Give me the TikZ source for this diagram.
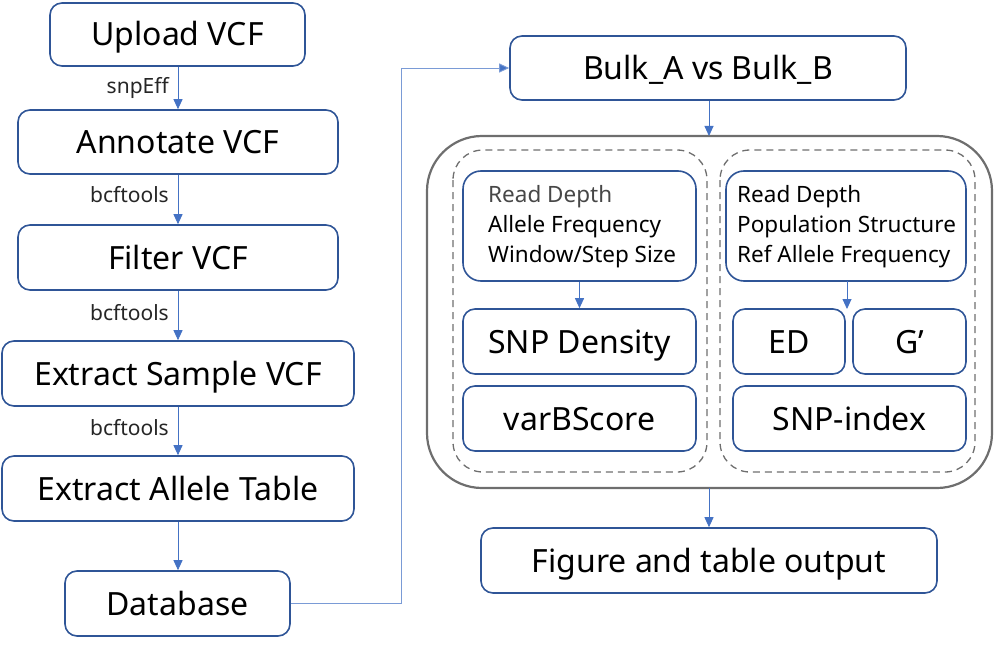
\documentclass[tikz,border=0pt]{standalone}
\usepackage{fontspec}
\setmainfont{Noto Sans}
\usetikzlibrary{arrows.meta,positioning}
\definecolor{boxblue}{HTML}{2F5597}
\definecolor{arrblue}{HTML}{4472C4}
\definecolor{linkblue}{HTML}{7A9BD6}
\definecolor{outgray}{HTML}{6E6E6E}
\tikzset{
  box/.style={draw=boxblue, line width=1.6pt, rounded corners=12pt, fill=white, inner sep=0pt, align=center, text height=23pt, text depth=0pt, font=\fontsize{32}{36}\selectfont},
  parbox/.style={draw=boxblue, line width=1.6pt, rounded corners=18pt, inner sep=0pt},
  partext/.style={anchor=west, align=left, inner sep=0pt, font=\fontsize{22.5}{30}\selectfont},
  arr/.style={draw=arrblue, line width=0.9pt, -{Triangle[width=9pt,length=10pt]}},
  lbl/.style={font=\fontsize{21}{24}\selectfont, anchor=east, inner sep=0pt, text=black!85},
  dashbox/.style={draw=outgray, line width=1.3pt, dash pattern=on 7pt off 5pt, rounded corners=30pt},
  outer/.style={draw=outgray, line width=2.2pt, rounded corners=55pt}
}
\begin{document}
\begin{tikzpicture}[x=1pt,y=-1pt]
\useasboundingbox (0,0) rectangle (1006,650);
% left column
\node[box, minimum width=255pt, minimum height=63pt] (up) at (177.5,34.5) {Upload VCF};
\node[box, minimum width=320pt, minimum height=64pt] (ann) at (178,142) {Annotate VCF};
\node[box, minimum width=320pt, minimum height=65pt] (fil) at (178,257.5) {Filter VCF};
\node[box, minimum width=352pt, minimum height=65pt] (ext) at (178,373.5) {Extract Sample VCF};
\node[box, minimum width=352pt, minimum height=65pt] (all) at (178,488.5) {Extract Allele Table};
\node[box, minimum width=225pt, minimum height=65pt] (db) at (177.5,603.5) {Database};
% right side
\node[box, minimum width=396pt, minimum height=64pt] (bulk) at (708,68) {Bulk\_A vs Bulk\_B};
\draw[outer] (427,136) rectangle (992,488);
\coordinate (outtop) at (709,136);
\coordinate (outbot) at (709,488);
\draw[dashbox] (453,150) rectangle (707,472);
\draw[dashbox] (720,150) rectangle (975,472);
\node[parbox, minimum width=233pt, minimum height=110pt] (lp) at (579.5,226) {};
\node[partext] (lpt) at (488,227) {\textcolor{black!72}{Read Depth}\\Allele Frequency\\Window/Step Size};
\node[parbox, minimum width=240pt, minimum height=110pt] (rp) at (846,226) {};
\node[partext] (rpt) at (737,227) {Read Depth\\Population Structure\\Ref Allele Frequency};
\node[box, minimum width=233pt, minimum height=65pt] (snpd) at (579.5,341.5) {SNP Density};
\node[box, minimum width=233pt, minimum height=65pt] (varb) at (579.5,418.5) {varBScore};
\node[box, minimum width=112pt, minimum height=65pt] (ed) at (789,341.5) {ED};
\node[box, minimum width=113pt, minimum height=65pt] (g) at (909.5,341.5) {G’};
\node[box, minimum width=233pt, minimum height=65pt] (si) at (849.5,418.5) {SNP-index};
\node[box, minimum width=456pt, minimum height=65pt] (fig) at (709,560.5) {Figure and table output};
% arrows left
\draw[arr] (up.south -| 178,0) -- (ann.north);
\node[lbl] (l1) at (169,88) {snpEff};
\draw[arr] (ann.south) -- (fil.north);
\node[lbl] (l2) at (169,195) {bcftools};
\draw[arr] (fil.south) -- (ext.north);
\node[lbl] (l3) at (169,313) {bcftools};
\draw[arr] (ext.south) -- (all.north);
\node[lbl] (l4) at (169,428) {bcftools};
\draw[arr] (all.south) -- (db.north -| all.south);
% database to bulk
\draw[draw=linkblue, line width=0.9pt, -{Triangle[width=9pt,length=10pt,fill=arrblue]}] (db.east) -- (401,603.5) -- (401,68) -- (bulk.west);
\draw[arr] (bulk.south -| outtop) -- (outtop);
\draw[arr] (lp.south) -- (snpd.north);
\draw[arr] (847,281) -- (847,309);
\draw[arr] (outbot) -- (fig.north);
\end{tikzpicture}
\end{document}
